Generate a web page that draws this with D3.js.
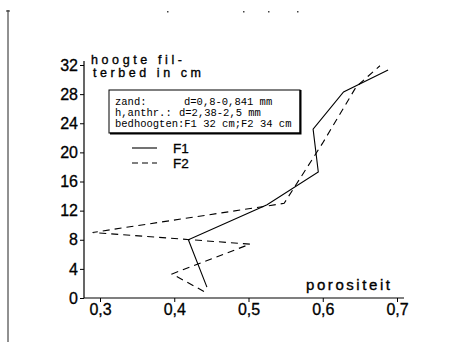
<!DOCTYPE html>
<html><head><meta charset="utf-8">
<script src="https://cdn.jsdelivr.net/npm/d3@7"></script>
<style>body{margin:0;background:#fff}svg{display:block}</style>
</head><body>
<script>
// data
const f1X = [0.444, 0.419, 0.525, 0.594, 0.587, 0.628, 0.688];
const f1Y = [1.5, 8.0, 12.8, 17.3, 23.2, 28.3, 31.3];
const f2X = [0.440, 0.397, 0.502, 0.290, 0.548, 0.600, 0.645, 0.677];
const f2Y = [0.9, 3.3, 7.4, 9.0, 13.0, 21.3, 29.0, 31.9];
const xTicks = [0.3, 0.4, 0.5, 0.6, 0.7];
const xTickLabels = ["0,3", "0,4", "0,5", "0,6", "0,7"];
const yTicks = [0, 4, 8, 12, 16, 20, 24, 28, 32];
const seriesNames = ["F1", "F2"];
const infoLines = [["zand:", "d=0,8-0,841 mm"], ["h,anthr.:", "d=2,38-2,5 mm"], ["bedhoogten:F1 32 cm;F2 34 cm", ""]];
const yTitle = ["hoogte fil-", "terbed in cm"];
const xTitle = "porositeit";

const W = 465, H = 350;
const svg = d3.select("body").append("svg").attr("width", W).attr("height", H);
const x = d3.scaleLinear().domain([0.3, 0.7]).range([100, 397]);
const y = d3.scaleLinear().domain([0, 32]).range([298, 65]);
const axX = 84;

// scan artifacts
svg.append("line").attr("x1", 8).attr("x2", 8).attr("y1", 10).attr("y2", 342).attr("stroke", "#222").attr("stroke-width", 1);
svg.append("line").attr("x1", 6).attr("x2", 10).attr("y1", 11).attr("y2", 11).attr("stroke", "#222");
[167, 243, 268, 297].forEach(d => svg.append("rect").attr("x", d).attr("y", 11).attr("width", 1.5).attr("height", 1.5).attr("fill", "#444"));

const font = "'Liberation Sans', Arial, sans-serif";

// axes
svg.append("line").attr("x1", axX).attr("x2", axX).attr("y1", y(0)).attr("y2", y(32) - 4).attr("stroke", "#000").attr("stroke-width", 1.2);
svg.append("line").attr("x1", axX).attr("x2", 404).attr("y1", y(0)).attr("y2", y(0)).attr("stroke", "#000").attr("stroke-width", 1.2);

const yAxis = d3.axisLeft(y).tickValues(yTicks).tickSize(4).tickPadding(2).tickFormat(d3.format("d"));
const gy = svg.append("g").attr("transform", `translate(${axX},0)`).call(yAxis);
gy.select(".domain").remove();
gy.selectAll("text").attr("font-family", font).attr("font-size", 16).attr("fill", "#000").attr("stroke", "#000").attr("stroke-width", 0.3);
gy.selectAll("line").attr("stroke", "#000");

const xAxis = d3.axisBottom(x).tickValues(xTicks).tickSize(4).tickPadding(2).tickFormat((d, i) => xTickLabels[i]);
const gx = svg.append("g").attr("transform", `translate(0,${y(0)})`).call(xAxis);
gx.select(".domain").remove();
gx.selectAll("text").attr("font-family", font).attr("font-size", 16).attr("fill", "#000").attr("stroke", "#000").attr("stroke-width", 0.3);
gx.selectAll("line").attr("stroke", "#000");

// titles
const tAttr = s => s.attr("font-family", font).attr("font-size", 12.5).attr("lengthAdjust", "spacing").attr("stroke", "#000").attr("stroke-width", 0.35);
svg.append("text").attr("x", 91).attr("y", 64).attr("textLength", 91).call(tAttr).text(yTitle[0]);
svg.append("text").attr("x", 93).attr("y", 77).attr("textLength", 108).call(tAttr).text(yTitle[1]);
svg.append("text").attr("x", 306).attr("y", 290).attr("textLength", 84).call(tAttr).attr("font-size", 15).text(xTitle);

// info box
const bx = 109, by = 90, bw = 191, bh = 43;
svg.append("rect").attr("x", bx).attr("y", by).attr("width", bw).attr("height", bh).attr("fill", "none").attr("stroke", "#000").attr("stroke-width", 1);
svg.append("path").attr("d", `M${bx + bw + 0.5},${by} V${by + bh + 0.5} H${bx + 1}`).attr("fill", "none").attr("stroke", "#000").attr("stroke-width", 2);
const mono = "'Liberation Mono', 'DejaVu Sans Mono', monospace";
const colX = [[115, 184], [115, 179], [115, 0]];
infoLines.forEach((ln, i) => {
  svg.append("text").attr("x", colX[i][0]).attr("y", 105 + i * 11).attr("font-family", mono).attr("font-size", 10.5).attr("fill", "#000").text(ln[0]);
  if (ln[1]) svg.append("text").attr("x", colX[i][1]).attr("y", 105 + i * 11).attr("font-family", mono).attr("font-size", 10.5).attr("fill", "#000").text(ln[1]);
});

// legend
const dashes = [null, "6,4"];
seriesNames.forEach((n, i) => {
  const ly = 148 + i * 15;
  svg.append("line").attr("x1", 132).attr("x2", 157).attr("y1", ly).attr("y2", ly).attr("stroke", "#000").attr("stroke-width", 1.1).attr("stroke-dasharray", dashes[i]);
  svg.append("text").attr("x", 173).attr("y", ly + 5).attr("font-family", font).attr("font-size", 13.5).attr("stroke", "#000").attr("stroke-width", 0.3).text(n);
});

// series
const line = d3.line().x(d => x(d[0])).y(d => y(d[1]));
const f1 = f1X.map((v, i) => [v, f1Y[i]]);
const f2 = f2X.map((v, i) => [v, f2Y[i]]);
svg.append("path").attr("d", line(f1)).attr("fill", "none").attr("stroke", "#000").attr("stroke-width", 1.1);
svg.append("path").attr("d", line(f2)).attr("fill", "none").attr("stroke", "#000").attr("stroke-width", 1.1).attr("stroke-dasharray", "7,5");
</script>
</body></html>
